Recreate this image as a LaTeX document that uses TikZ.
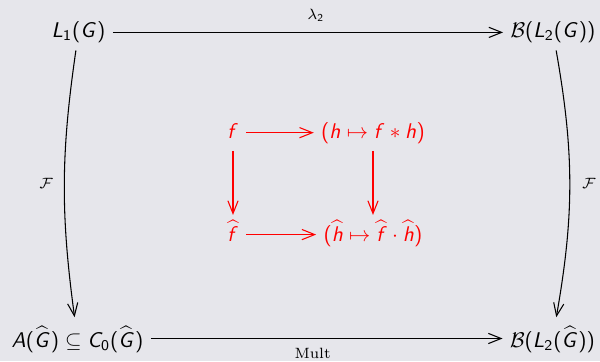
\documentclass[tikz,border=0pt]{standalone}
\usepackage{amsmath, amssymb}
\usetikzlibrary{
    arrows.meta
}
\DeclareSymbolFont{operators}{OT1}{cmss}{m}{n}
\DeclareMathAlphabet{\mathsfit}{OT1}{cmss}{m}{it}
\definecolor{slidebg}{RGB}{230,230,235}

\begin{document}
\begin{tikzpicture}[
  x=0.47pt,
  y=-0.47pt,
  objnode/.style={
    anchor=base,
    inner sep=3.3pt,
    text height=0.75em,
    text depth=0.25em
  },
  hatnode/.style={
    objnode,
    text height=1.05em
  },
  elemnode/.style={
    objnode,
    text=red
  },
  hatelem/.style={
    objnode,
    text height=0.9em,
    text=red
  },
  maplabel/.style={font=\scriptsize, inner sep=2.5pt},
  arrow/.style={-{Straight Barb[length=6pt,width=4.8pt]}, line width=0.5pt},
  redarrow/.style={arrow, draw=red}
]
  \path[use as bounding box, fill=slidebg] (0,0) rectangle (600,361);

  % Outer square of spaces.
  \node[objnode] (lone) at (78.5,37.7) {$\mathsfit{L}_1(\mathsfit{G})$};
  \node[objnode] (blg) at (553,37.7) {$\mathcal{B}(\mathsfit{L}_2(\mathsfit{G}))$};
  \node[hatnode] (acz) at (77.5,347) {$\mathsfit{A}(\widehat{\mathsfit{G}}) \subseteq \mathsfit{C}_0(\widehat{\mathsfit{G}})$};
  \node[hatnode] (blgh) at (552.5,347) {$\mathcal{B}(\mathsfit{L}_2(\widehat{\mathsfit{G}}))$};

  \draw[arrow] (lone) -- node[maplabel, above=2.5pt, pos=0.52] {$\lambda_2$} (blg);
  \draw[arrow] (acz) -- node[maplabel, below=2pt, pos=0.46] {Mult} (blgh);
  \draw[arrow] (lone) to[bend right=8] node[maplabel, left=2.5pt] {$\mathcal{F}$} (acz);
  \draw[arrow] (blg) to[bend left=10] node[maplabel, right=3pt] {$\mathcal{F}$} (blgh);

  % Inner square of elements.
  \node[elemnode] (f) at (233,138) {$\mathsfit{f}$};
  \node[elemnode] (conv) at (373,138) {$(\mathsfit{h} \mapsto \mathsfit{f} * \mathsfit{h})$};
  \node[hatelem] (fhat) at (233,241.5) {$\widehat{\mathsfit{f}}$};
  \node[hatelem] (prod) at (373,241.5) {$(\widehat{\mathsfit{h}} \mapsto \widehat{\mathsfit{f}} \cdot \widehat{\mathsfit{h}})$};

  \draw[redarrow] (f) -- (conv);
  \draw[redarrow] (f) -- (fhat);
  \draw[redarrow] (conv) -- (prod);
  \draw[redarrow] (fhat) -- (prod);
\end{tikzpicture}
\end{document}
